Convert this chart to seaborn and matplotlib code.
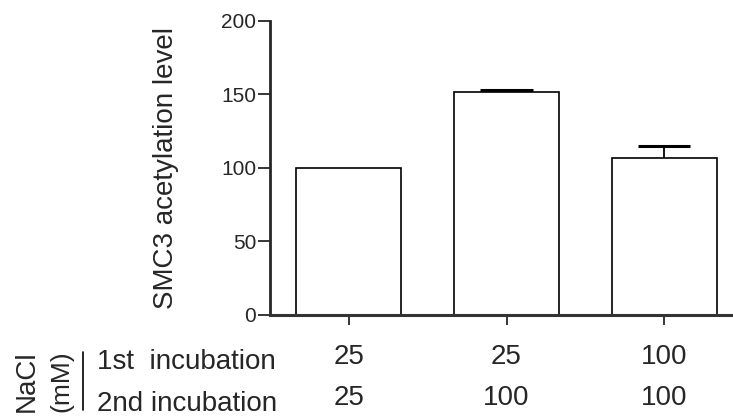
import numpy as np
import pandas as pd
import seaborn as sns
import matplotlib.pyplot as plt
from matplotlib.lines import Line2D

# NaCl (mM) for each incubation step
first_incubation = ['25', '25', '100']
second_incubation = ['25', '100', '100']
# SMC3 acetylation level (mean) and upper error (SEM)
acetylation = [100, 151.3, 106.5]
error_up = [0, 1.4, 8.4]

sns.set_style('ticks')
plt.rcParams['font.family'] = ['Liberation Sans', 'DejaVu Sans']

conditions = [a + '\n' + b for a, b in zip(first_incubation, second_incubation)]
df = pd.DataFrame({'condition': conditions, 'level': acetylation})

bar_width = 0.665

fig = plt.figure(figsize=(7.33, 4.16), dpi=100)
ax = fig.add_axes([0.3684, 0.2428, 0.6453, 0.7077])

sns.barplot(data=df, x='condition', y='level', order=conditions,
            color='white', edgecolor='black', linewidth=1.2,
            width=bar_width, errorbar=None, ax=ax)
for patch in ax.patches:
    patch.set_facecolor('white')

# upper error bars only (stem + cap)
for i, (m, e) in enumerate(zip(acetylation, error_up)):
    if e > 0:
        ax.vlines(i, m, m + e, color='black', linewidth=1.3, zorder=3)
        ax.hlines(m + e, i - bar_width / 4, i + bar_width / 4,
                  color='black', linewidth=2.2, zorder=3)

ax.set_xlim(-0.5, 2.5)
ax.set_ylim(0, 200)
ax.set_yticks([0, 50, 100, 150, 200])
ax.set_ylabel('SMC3 acetylation level', fontsize=20, labelpad=30)
ax.set_xlabel('')
ax.tick_params(axis='y', labelsize=15, length=9, width=1.3, pad=1)
ax.tick_params(axis='x', labelsize=20, length=7, width=1.3, pad=14)
for lab in ax.get_xticklabels():
    lab.set_linespacing(1.75)

sns.despine(ax=ax)
ax.spines['left'].set_linewidth(2)
ax.spines['bottom'].set_linewidth(2.2)
ax.spines['bottom'].set_color('#333333')

# row labels on the left
fig.text(97 / 733, 1 - 362 / 416, '1st  incubation', fontsize=20, ha='left', va='center')
fig.text(97 / 733, 1 - 404 / 416, '2nd incubation', fontsize=20, ha='left', va='center')
fig.text(27 / 733, 1 - 381 / 416, 'NaCl', fontsize=20, rotation=90, ha='center', va='center')
fig.text(61 / 733, 1 - 381 / 416, '(mM)', fontsize=19, rotation=90, ha='center', va='center')
fig.add_artist(Line2D([83 / 733, 83 / 733], [1 - 352 / 416, 1 - 410 / 416],
                      transform=fig.transFigure, color='black', linewidth=1.2))

fig.savefig('out.png', dpi=100)
plt.close(fig)
